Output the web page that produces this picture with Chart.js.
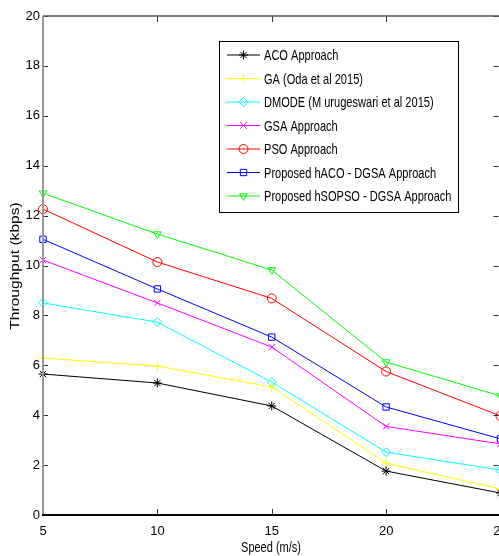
<!DOCTYPE html>
<html>
<head>
<meta charset="utf-8">
<script src="https://cdn.jsdelivr.net/npm/chart.js@4.4.1/dist/chart.umd.min.js"></script>
<style>
html, body { margin: 0; padding: 0; overflow: hidden; background: #fff; }
#wrap { width: 506px; height: 556px; }
</style>
</head>
<body>
<div id="wrap"><canvas id="myChart" width="506" height="556" style="width:506px;height:556px"></canvas></div>
<script>
const speeds = [5, 10, 15, 20, 25]
const yTicks = [0, 2, 4, 6, 8, 10, 12, 14, 16, 18, 20]

const aco    = [5.65, 5.29, 4.37, 1.76, 0.88]
const ga     = [6.29, 5.97, 5.13, 2.08, 1.04]
const dmode  = [8.50, 7.73, 5.33, 2.52, 1.80]
const gsa    = [10.22, 8.50, 6.73, 3.55, 2.85]
const pso    = [12.26, 10.14, 8.68, 5.75, 3.97]
const haco   = [11.05, 9.06, 7.13, 4.33, 3.05]
const hsopso = [12.90, 11.26, 9.82, 6.13, 4.77]

const names = ['ACO Approach', 'GA (Oda et al 2015)', 'DMODE (M urugeswari et al 2015)', 'GSA Approach',
  'PSO Approach', 'Proposed hACO - DGSA Approach', 'Proposed hSOPSO - DGSA Approach']
const series = [aco, ga, dmode, gsa, pso, haco, hsopso]
const colors = ['#000000', '#ffff00', '#00ffff', '#ff00ff', '#ff0000', '#0000ff', '#00ff00']
const markers = ['star', 'cross', 'rectRot', 'crossRot', 'circle', 'rect', 'triangle']
const rotations = [0, 0, 0, 0, 0, 0, 180]

const SANS = "'Liberation Sans', Arial, sans-serif"

// frame, inward ticks, axis titles and boxed legend (matlab look)
const matlabPlugin = {
  id: 'matlab',
  afterDraw(chart) {
    const ctx = chart.ctx
    const a = chart.chartArea
    const xs = chart.scales.x, ys = chart.scales.y
    ctx.save()
    // ticks
    ctx.lineWidth = 1
    ctx.strokeStyle = '#333'
    speeds.forEach((v) => {
      const px = Math.round(xs.getPixelForValue(v)) + 0.5
      ctx.beginPath()
      ctx.moveTo(px, a.bottom); ctx.lineTo(px, a.bottom - 6)
      ctx.moveTo(px, a.top); ctx.lineTo(px, a.top + 6)
      ctx.stroke()
    })
    yTicks.forEach((v) => {
      const py = Math.round(ys.getPixelForValue(v)) + 0.5
      ctx.beginPath()
      ctx.moveTo(a.left, py); ctx.lineTo(a.left + 5, py)
      ctx.moveTo(a.right - 2, py); ctx.lineTo(a.right - 7, py)
      ctx.stroke()
    })
    // frame
    ctx.strokeStyle = '#555'
    ctx.lineWidth = 1.5
    ctx.beginPath(); ctx.moveTo(a.left, a.top); ctx.lineTo(a.right, a.top); ctx.stroke()
    ctx.strokeStyle = '#999'
    ctx.lineWidth = 2
    ctx.beginPath(); ctx.moveTo(a.left, a.top); ctx.lineTo(a.left, a.bottom); ctx.stroke()
    ctx.strokeStyle = '#000'
    ctx.lineWidth = 2
    ctx.beginPath(); ctx.moveTo(a.left - 1, a.bottom); ctx.lineTo(a.right, a.bottom); ctx.stroke()

    // axis titles
    ctx.fillStyle = '#000'
    ctx.textAlign = 'center'
    ctx.textBaseline = 'middle'
    ctx.font = '12px ' + SANS
    ctx.save()
    ctx.translate(16, 266)
    ctx.rotate(-Math.PI / 2)
    ctx.scale(1.3, 1)
    ctx.fillText('Throughput (kbps)', 0, 0)
    ctx.restore()
    ctx.save()
    ctx.translate(271, 548)
    ctx.scale(1, 1.25)
    ctx.font = '11px ' + SANS
    ctx.fillText('Speed (m/s)', 0, 0)
    ctx.restore()

    // legend box
    const bx = a.left + 176, by = a.top + 25, bw = 239, bh = 171
    ctx.fillStyle = '#fff'
    ctx.fillRect(bx, by, bw, bh)
    ctx.strokeStyle = '#000'
    ctx.lineWidth = 1
    ctx.strokeRect(bx + 0.5, by + 0.5, bw, bh)
    ctx.font = '14px ' + SANS
    ctx.textAlign = 'left'
    chart.data.datasets.forEach((ds, i) => {
      const cy = by + 14 + i * 23.5
      ctx.strokeStyle = ds.borderColor
      ctx.fillStyle = 'rgba(0,0,0,0)'
      ctx.lineWidth = 1
      ctx.beginPath(); ctx.moveTo(bx + 8, cy); ctx.lineTo(bx + 41, cy); ctx.stroke()
      Chart.helpers.drawPoint(ctx, {
        pointStyle: ds.pointStyle, rotation: ds.pointRotation, radius: 4.5, borderWidth: 1
      }, bx + 24.5, cy)
      ctx.save()
      ctx.translate(bx + 45, cy + 1)
      ctx.scale(0.79, 1.08)
      ctx.fillStyle = '#000'
      ctx.fillText(ds.label, 0, 0)
      ctx.restore()
    })
    ctx.restore()
  }
}

const ctx = document.getElementById('myChart').getContext('2d')
const myChart = new Chart(ctx, {
  type: 'line',
  data: {
    datasets: series.map((s, i) => ({
      label: names[i],
      data: s.map((v, j) => ({ x: speeds[j], y: v })),
      borderColor: colors[i],
      backgroundColor: 'rgba(0,0,0,0)',
      pointBackgroundColor: 'rgba(0,0,0,0)',
      pointBorderColor: colors[i],
      pointStyle: markers[i],
      pointRotation: rotations[i],
      pointRadius: 4.5,
      pointBorderWidth: 1,
      borderWidth: 1,
      tension: 0,
      clip: false
    }))
  },
  options: {
    responsive: false,
    animation: false,
    layout: { padding: { left: 0, right: 0, top: 16, bottom: 0 } },
    plugins: { legend: { display: false }, tooltip: { enabled: false } },
    scales: {
      x: {
        type: 'linear', min: 5, max: 25,
        grid: { display: false, drawTicks: false },
        border: { display: false },
        ticks: { stepSize: 5, padding: 9, color: '#000', maxRotation: 0, font: { family: SANS, size: 13 } },
        afterFit: (s) => { s.height = 41; s.paddingLeft = 0; s.paddingRight = 0 }
      },
      y: {
        min: 0, max: 20,
        grid: { display: false, drawTicks: false },
        border: { display: false },
        ticks: { stepSize: 2, padding: 3, color: '#000', font: { family: SANS, size: 13 } },
        afterFit: (s) => { s.width = 43; s.paddingTop = 0; s.paddingBottom = 0 }
      }
    }
  },
  plugins: [matlabPlugin]
})
</script>
</body>
</html>
